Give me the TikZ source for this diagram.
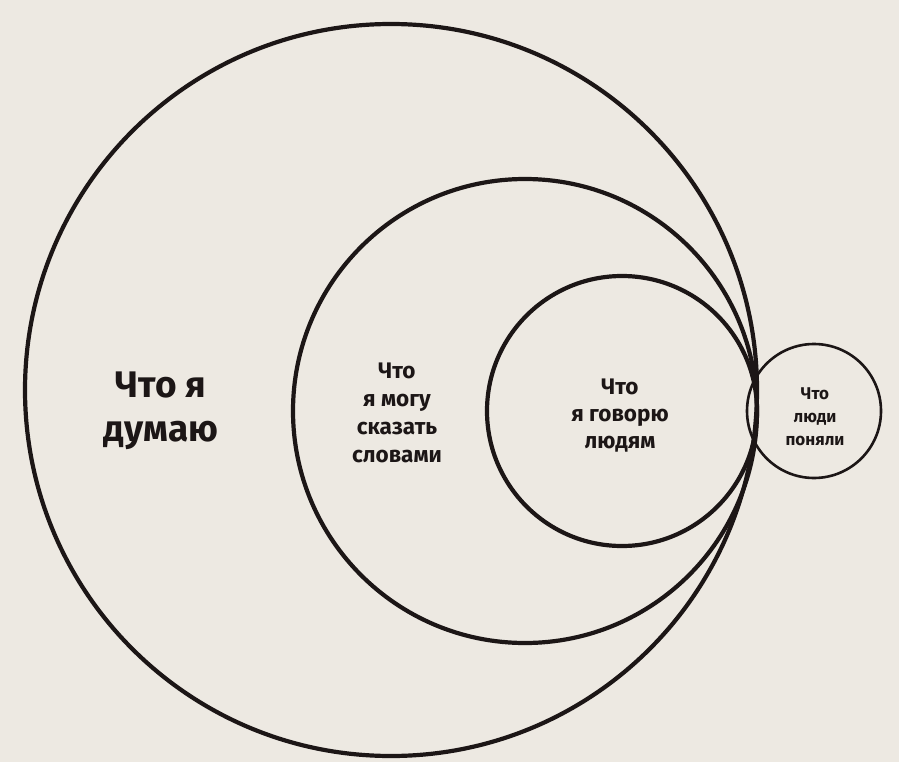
\documentclass[tikz,border=0pt]{standalone}
\usepackage{fontspec}
\setmainfont{Fira Sans}
\begin{document}
\begin{tikzpicture}[x=1pt,y=-1pt]
\definecolor{bg}{HTML}{EDE9E2}
\definecolor{ink}{HTML}{1C1616}
\tikzset{
  ring/.style={circle, draw=ink, line width=4.2pt, inner sep=0pt},
  thinring/.style={circle, draw=ink, line width=2.6pt, inner sep=0pt},
  label/.style={align=center, text=ink, inner sep=0pt}
}
\fill[bg] (0,0) rectangle (899,762);
\useasboundingbox (0,0) rectangle (899,762);
\node[ring, minimum size=732pt] (big) at (391,390) {};
\node[ring, minimum size=464pt] (mid) at (525,411) {};
\node[ring, minimum size=270pt] (small) at (622,411) {};
\node[thinring, minimum size=134pt] (tiny) at (814,411) {};
\node[label, font=\bfseries\fontsize{37}{44}\selectfont] (t1) at (161,411) {Что я\\думаю};
\node[label, font=\bfseries\fontsize{22.5}{28}\selectfont] (t2) at (397,413) {Что\\я могу\\сказать\\словами};
\node[label, font=\bfseries\fontsize{22.5}{27}\selectfont] (t3) at (620,416) {Что\\я говорю\\людям};
\node[label, font=\bfseries\fontsize{17}{23}\selectfont] (t4) at (815,417) {Что\\люди\\поняли};
\end{tikzpicture}
\end{document}
